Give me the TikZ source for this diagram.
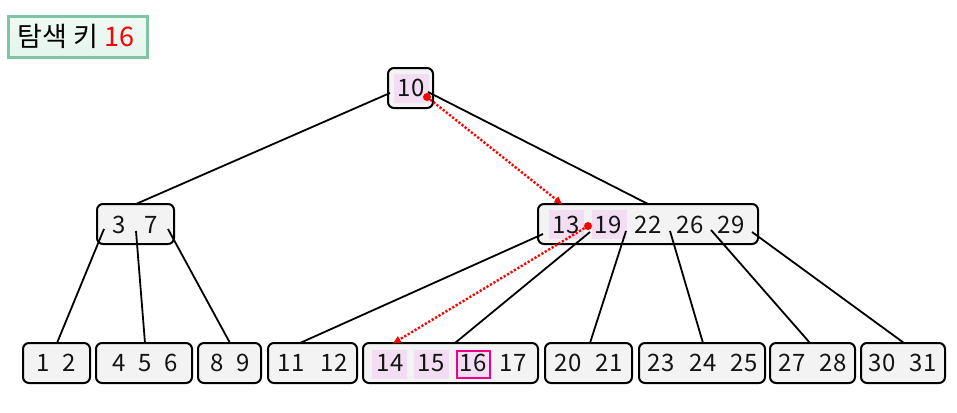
\documentclass[tikz,border=0pt]{standalone}
\usepackage{fontspec}
\setmainfont{Noto Sans CJK KR}
\usetikzlibrary{shadows,arrows.meta}
\definecolor{hl}{HTML}{F2DDF2}
\definecolor{boxfill}{HTML}{F3F3F3}
\definecolor{titlefill}{HTML}{E3F5EC}
\definecolor{titlefilltop}{HTML}{F0FAF5}
\definecolor{titleline}{HTML}{7FC4A3}
\tikzset{
  keybox/.style={draw=black, line width=2pt, rounded corners=6pt, fill=boxfill, minimum height=40pt, inner sep=0pt},
  key/.style={font=\fontsize{24pt}{28pt}\selectfont, text=black!92, inner sep=0pt},
  hlbox/.style={fill=hl, minimum width=35pt, minimum height=29pt, inner sep=0pt},
  found/.style={draw=magenta, line width=2pt, fill=hl, minimum width=33pt, minimum height=27pt, inner sep=0pt},
  edge/.style={line width=1.8pt, black},
  path/.style={red, line width=2.4pt, dash pattern=on 2.2pt off 1.8pt, -{Latex[length=9pt,width=8pt]}},
  dot/.style={circle, fill=red, inner sep=0pt, minimum size=8pt}
}
\begin{document}
\begin{tikzpicture}[x=1pt,y=-1pt]
\useasboundingbox (0,0) rectangle (957,412);
% title
\node[draw=titleline, line width=2.4pt, top color=titlefilltop, bottom color=titlefill, minimum width=139pt, minimum height=41pt, inner sep=0pt, drop shadow={shadow xshift=1.5pt, shadow yshift=-1.5pt, opacity=0.25}] (title) at (78,37) {};
\node[font=\fontsize{27pt}{30pt}\selectfont, anchor=center] (ttext) at (76,36) {탐색 키 \textcolor{red}{16}};

% boxes
\node[keybox, minimum width=45pt] (root) at (410.5,88) {};
\node[keybox, minimum width=77pt] (nl) at (135.5,224) {};
\node[keybox, minimum width=220pt] (nr) at (648,224) {};
\node[keybox, minimum width=67pt] (l1) at (56.5,363) {};
\node[keybox, minimum width=96pt] (l2) at (144,363) {};
\node[keybox, minimum width=63pt] (l3) at (229.5,363) {};
\node[keybox, minimum width=89pt] (l4) at (312.5,363) {};
\node[keybox, minimum width=175pt] (l5) at (450.5,363) {};
\node[keybox, minimum width=87pt] (l6) at (588.5,363) {};
\node[keybox, minimum width=126pt] (l7) at (702,363) {};
\node[keybox, minimum width=85pt] (l8) at (812.5,363) {};
\node[keybox, minimum width=84pt] (l9) at (903,363) {};

% highlights
\node[hlbox] (h10) at (411,88) {};
\node[hlbox] (h13) at (566,224) {};
\node[hlbox] (h19) at (609,224) {};
\node[hlbox] (h14) at (389,364) {};
\node[hlbox] (h15) at (431.5,364) {};
\node[found] (h16) at (473,364) {};

% keys
\node[key] (k10) at (411,88) {10};
\node[key] (k3) at (119,225) {3};
\node[key] (k7) at (151,225) {7};
\node[key] (k13) at (566,225) {13};
\node[key] (k19) at (608,225) {19};
\node[key] (k22) at (648,225) {22};
\node[key] (k26) at (690,225) {26};
\node[key] (k29) at (731,225) {29};
\node[key] (k1) at (43,363) {1};
\node[key] (k2) at (69,363) {2};
\node[key] (k4) at (119,363) {4};
\node[key] (k5) at (145,363) {5};
\node[key] (k6) at (171,363) {6};
\node[key] (k8) at (217,363) {8};
\node[key] (k9) at (243,363) {9};
\node[key] (k11) at (291,363) {11};
\node[key] (k12) at (334,363) {12};
\node[key] (k14) at (390,363) {14};
\node[key] (k15) at (431,363) {15};
\node[key] (k16) at (473,363) {16};
\node[key] (k17) at (513,363) {17};
\node[key] (k20) at (568,363) {20};
\node[key] (k21) at (609,363) {21};
\node[key] (k23) at (661,363) {23};
\node[key] (k24) at (703,363) {24};
\node[key] (k25) at (744,363) {25};
\node[key] (k27) at (792,363) {27};
\node[key] (k28) at (833,363) {28};
\node[key] (k30) at (882,363) {30};
\node[key] (k31) at (923,363) {31};

% edge start points inside parent boxes
\coordinate (r0) at (390,93);
\coordinate (r1) at (428,92);
\coordinate (a0) at (104,229);
\coordinate (a1) at (136,231);
\coordinate (a2) at (168,229);
\coordinate (b0) at (543,234);
\coordinate (b1) at (590,232);
\coordinate (b2) at (626,231);
\coordinate (b3) at (670,231);
\coordinate (b4) at (711,230);
\coordinate (b5) at (752,232);
% edge end points on child tops
\coordinate (e1) at (57,343);
\coordinate (e2) at (145,343);
\coordinate (e3) at (230,343);
\coordinate (e4) at (300,343);
\coordinate (e5) at (455,343);
\coordinate (e6) at (590,343);
\coordinate (e7) at (703,343);
\coordinate (e8) at (810,343);
\coordinate (e9) at (904,343);
\coordinate (el) at (136,204);
\coordinate (er) at (648,204);

\draw[edge] (r0) -- (el);
\draw[edge] (r1) -- (er);
\draw[edge] (a0) -- (e1);
\draw[edge] (a1) -- (e2);
\draw[edge] (a2) -- (e3);
\draw[edge] (b0) -- (e4);
\draw[edge] (b1) -- (e5);
\draw[edge] (b2) -- (e6);
\draw[edge] (b3) -- (e7);
\draw[edge] (b4) -- (e8);
\draw[edge] (b5) -- (e9);

% search path
\node[dot] (d1) at (427,97) {};
\node[dot] (d2) at (588,226) {};
\coordinate (t1) at (563,205);
\coordinate (t2) at (392,344);
\draw[path] (d1) -- (t1);
\draw[path] (d2) -- (t2);
\end{tikzpicture}
\end{document}
